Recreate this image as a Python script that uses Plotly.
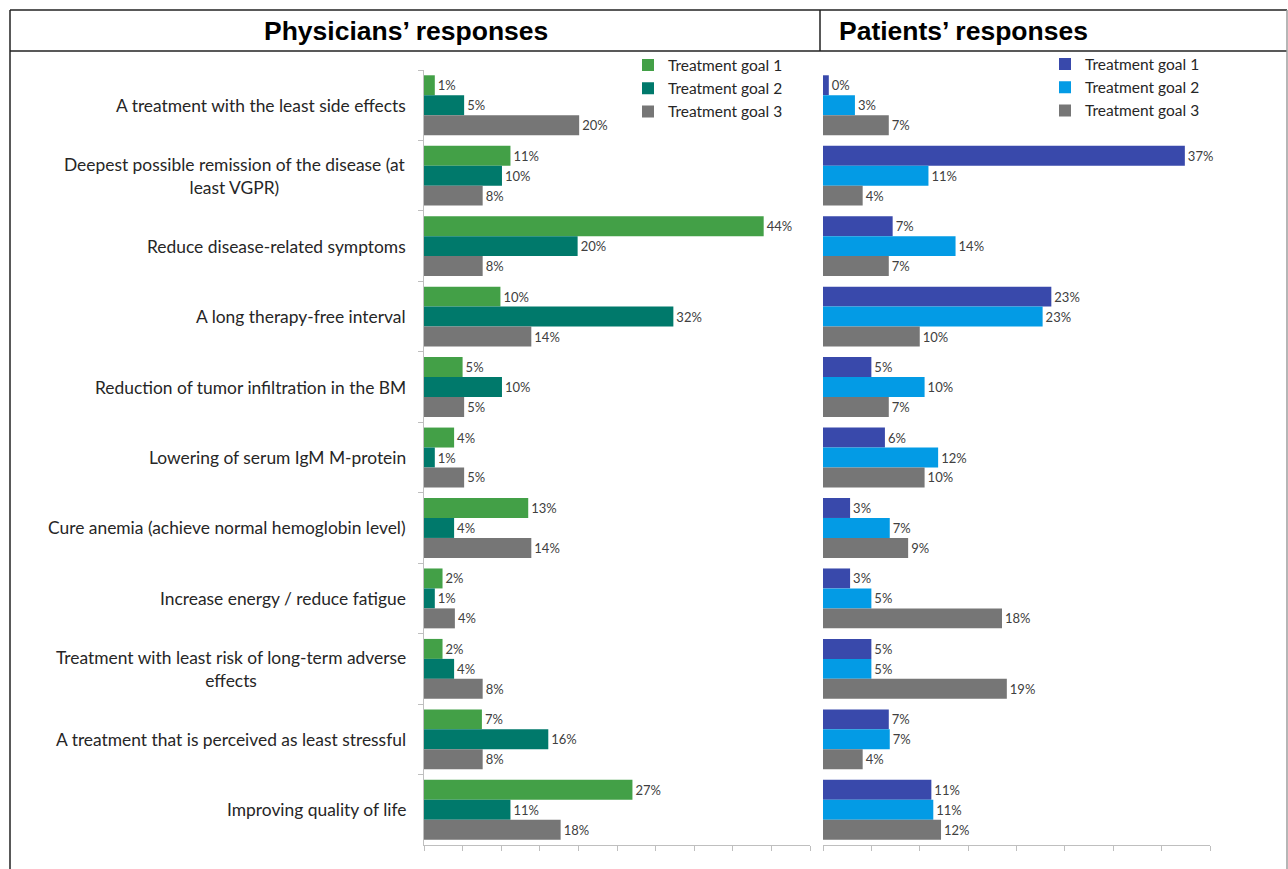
import plotly.graph_objects as go

W, H = 1288, 869

categories = [
    "A treatment with the least side effects",
    "Deepest possible remission of the disease (at<br>least VGPR)",
    "Reduce disease-related symptoms",
    "A long therapy-free interval",
    "Reduction of tumor infiltration in the BM",
    "Lowering of serum IgM M-protein",
    "Cure anemia (achieve normal hemoglobin level)",
    "Increase energy / reduce fatigue",
    "Treatment with least risk of long-term adverse<br>effects",
    "A treatment that is perceived as least stressful",
    "Improving quality of life",
]
series_names = ["Treatment goal 1", "Treatment goal 2", "Treatment goal 3"]

# Physicians' responses (% of respondents)
phys_goal1 = [1.4, 11.2, 44.0, 9.9, 5.0, 3.9, 13.5, 2.4, 2.4, 7.5, 27.0]
phys_goal2 = [5.2, 10.1, 19.9, 32.3, 10.1, 1.4, 3.9, 1.4, 3.9, 16.1, 11.2]
phys_goal3 = [20.1, 7.6, 7.6, 13.9, 5.2, 5.2, 13.9, 4.0, 7.6, 7.6, 17.7]
# printed labels
phys_lab1 = [1, 11, 44, 10, 5, 4, 13, 2, 2, 7, 27]
phys_lab2 = [5, 10, 20, 32, 10, 1, 4, 1, 4, 16, 11]
phys_lab3 = [20, 8, 8, 14, 5, 5, 14, 4, 8, 8, 18]

# Patients' responses (% of respondents)
pat_goal1 = [0.6, 37.4, 7.2, 23.6, 5.0, 6.4, 2.8, 2.8, 5.0, 6.8, 11.2]
pat_goal2 = [3.3, 10.9, 13.7, 22.7, 10.5, 11.9, 6.9, 5.0, 5.0, 6.9, 11.4]
pat_goal3 = [6.8, 4.1, 6.8, 10.0, 6.8, 10.5, 8.8, 18.5, 19.0, 4.1, 12.2]
pat_lab1 = [0, 37, 7, 23, 5, 6, 3, 3, 5, 7, 11]
pat_lab2 = [3, 11, 14, 23, 10, 12, 7, 5, 5, 7, 11]
pat_lab3 = [7, 4, 7, 10, 7, 10, 9, 18, 19, 4, 12]

phys_colors = ["#43A047", "#00796B", "#767676"]
pat_colors = ["#3949AB", "#039BE5", "#767676"]

FONT = "Lato"
TXT = "#262626"

def px(x):
    return x / W

def py(y):
    return 1 - y / H

fig = go.Figure()

for vals, labs, name, col in zip([phys_goal1, phys_goal2, phys_goal3],
                                 [phys_lab1, phys_lab2, phys_lab3],
                                 series_names, phys_colors):
    fig.add_trace(go.Bar(
        x=vals, y=categories, orientation="h", name=name,
        marker=dict(color=col, line=dict(width=0)),
        text=[f"{v}%" for v in labs], textposition="outside",
        textfont=dict(family=FONT, size=13, color="#404040"),
        constraintext="none", cliponaxis=False,
        xaxis="x", yaxis="y", legend="legend", legendgroup="p" + name,
        hoverinfo="skip",
    ))

for vals, labs, name, col in zip([pat_goal1, pat_goal2, pat_goal3],
                                 [pat_lab1, pat_lab2, pat_lab3],
                                 series_names, pat_colors):
    fig.add_trace(go.Bar(
        x=vals, y=categories, orientation="h", name=name,
        marker=dict(color=col, line=dict(width=0)),
        text=[f"{v}%" for v in labs], textposition="outside",
        textfont=dict(family=FONT, size=13, color="#404040"),
        constraintext="none", cliponaxis=False,
        xaxis="x2", yaxis="y2", legend="legend2", legendgroup="q" + name,
        hoverinfo="skip",
    ))

ydom = [py(845), py(70)]
axis_line = "#BFBFBF"

fig.update_layout(
    width=W, height=H,
    margin=dict(l=0, r=0, t=0, b=0),
    paper_bgcolor="white", plot_bgcolor="white",
    barmode="group", bargap=0.15, bargroupgap=0,
    font=dict(family=FONT, color=TXT),
    showlegend=True,
    xaxis=dict(domain=[px(424), px(810)], range=[0, 50], dtick=5,
               showgrid=False, zeroline=False, showticklabels=False,
               showline=True, linecolor=axis_line, linewidth=1,
               ticks="outside", ticklen=5, tickcolor=axis_line,
               anchor="y", fixedrange=True),
    yaxis=dict(domain=ydom, autorange="reversed", type="category",
               showgrid=False, zeroline=False, showticklabels=False,
               showline=True, linecolor=axis_line, linewidth=1,
               ticks="outside", ticklen=5, tickcolor=axis_line,
               tickson="boundaries", anchor="x", fixedrange=True),
    xaxis2=dict(domain=[px(823), px(1210)], range=[0, 40], dtick=5,
                showgrid=False, zeroline=False, showticklabels=False,
                showline=True, linecolor=axis_line, linewidth=1,
                ticks="outside", ticklen=5, tickcolor=axis_line,
                anchor="y2", fixedrange=True),
    yaxis2=dict(domain=ydom, autorange="reversed", type="category",
                showgrid=False, zeroline=False, showticklabels=False,
                showline=False, ticks="", anchor="x2", fixedrange=True),
    legend=dict(x=px(628), y=py(48.5), xanchor="left", yanchor="top",
                traceorder="grouped", tracegroupgap=0,
                font=dict(family=FONT, size=15.5, color=TXT),
                bgcolor="rgba(0,0,0,0)"),
    legend2=dict(x=px(1045), y=py(47.5), xanchor="left", yanchor="top",
                 traceorder="grouped", tracegroupgap=0,
                 font=dict(family=FONT, size=15.5, color=TXT),
                 bgcolor="rgba(0,0,0,0)"),
)

# category labels (centered multi-line, right anchored)
for c in categories:
    fig.add_annotation(x=px(408), xref="paper", y=c, yref="y",
                       text=c, showarrow=False, xanchor="right",
                       align="center",
                       font=dict(family=FONT, size=17.4, color=TXT))

# header titles
fig.add_annotation(x=px(406), y=py(31), xref="paper", yref="paper",
                   text="<b>Physicians’ responses</b>", showarrow=False,
                   xanchor="center", yanchor="middle",
                   font=dict(family="Liberation Sans", size=26.5, color="black"))
fig.add_annotation(x=px(837), y=py(31), xref="paper", yref="paper",
                   text="<b>Patients’ responses</b>", showarrow=False,
                   xanchor="left", yanchor="middle",
                   font=dict(family="Liberation Sans", size=26.5, color="black"))

# table frame
frame = "#222222"
for (x0, y0, x1, y1, col) in [
    (10, 10, 1287, 10, frame),
    (10, 51, 1287, 51, frame),
    (10, 10, 10, 869, frame),
    (820, 10, 820, 51, frame),
    (1287, 10, 1287, 869, "#9E9E9E"),
]:
    fig.add_shape(type="line", xref="paper", yref="paper",
                  x0=px(x0), y0=py(y0), x1=px(x1), y1=py(y1),
                  line=dict(color=col, width=1.5))

fig.write_html(
    "out.html",
    config={"displayModeBar": False},
    post_script="document.body.style.margin='0';document.body.style.overflow='hidden';",
)
